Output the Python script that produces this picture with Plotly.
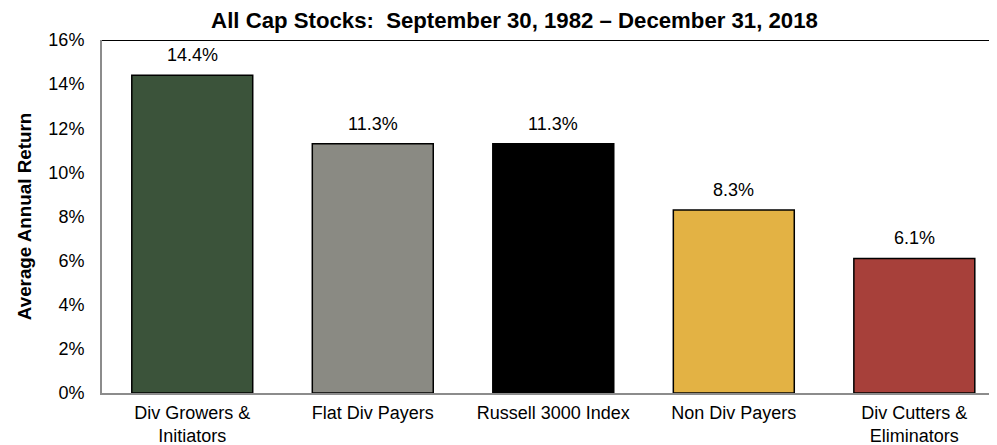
import plotly.graph_objects as go

categories = ["Div Growers &<br>Initiators", "Flat Div Payers", "Russell 3000 Index",
              "Non Div Payers", "Div Cutters &<br>Eliminators"]
values = [14.4, 11.3, 11.3, 8.3, 6.1]
labels = ["14.4%", "11.3%", "11.3%", "8.3%", "6.1%"]
colors = ["#3B533A", "#8A8A83", "#000000", "#E3B244", "#A7403A"]
tick_vals = [0, 2, 4, 6, 8, 10, 12, 14, 16]
tick_text = ["0%", "2%", "4%", "6%", "8%", "10%", "12%", "14%", "16%"]

font = "Liberation Sans, Arial, sans-serif"

# page body has an 8px default margin; figure is sized to fill the rest
W, H = 989, 437

fig = go.Figure(go.Bar(
    x=categories, y=values,
    marker=dict(color=colors, line=dict(color="#000000", width=1.5)),
    width=0.67,
))

for c, v, t in zip(categories, values, labels):
    fig.add_annotation(x=c, y=v, text=t, showarrow=False, yanchor="bottom",
                       yshift=8, font=dict(family=font, size=18, color="#000000"))

fig.update_layout(
    width=W, height=H,
    margin=dict(l=94, r=0, t=32, b=52),
    paper_bgcolor="white", plot_bgcolor="white",
    showlegend=False,
    title=dict(text="<b>All Cap Stocks:  September 30, 1982 – December 31, 2018</b>",
               xref="container", yref="container",
               x=(514.5 - 8) / W, xanchor="center",
               y=1 - (20.5 - 8) / H, yanchor="middle",
               font=dict(family=font, size=22.2, color="#000000")),
    xaxis=dict(range=[-0.5, 4.458], showline=True, linecolor="#8C8C8C", linewidth=2,
               ticks="", tickfont=dict(family=font, size=18, color="#000000"),
               ticklabelstandoff=2, showgrid=False, fixedrange=True,
               automargin=False),
    yaxis=dict(range=[0, 16], tickvals=tick_vals, ticktext=tick_text,
               showline=True, linecolor="#8C8C8C", linewidth=2, ticks="",
               ticklabelstandoff=12, automargin=False,
               showgrid=False, zeroline=False,
               tickfont=dict(family=font, size=18, color="#000000"),
               title=dict(text="<b>Average Annual Return</b>", standoff=12,
                          font=dict(family=font, size=18.8, color="#000000"))),
    shapes=[dict(type="line", xref="paper", yref="y", x0=0, x1=1, y0=16, y1=16,
                 line=dict(color="#000000", width=2))],
)

fig.write_html("out.html")
